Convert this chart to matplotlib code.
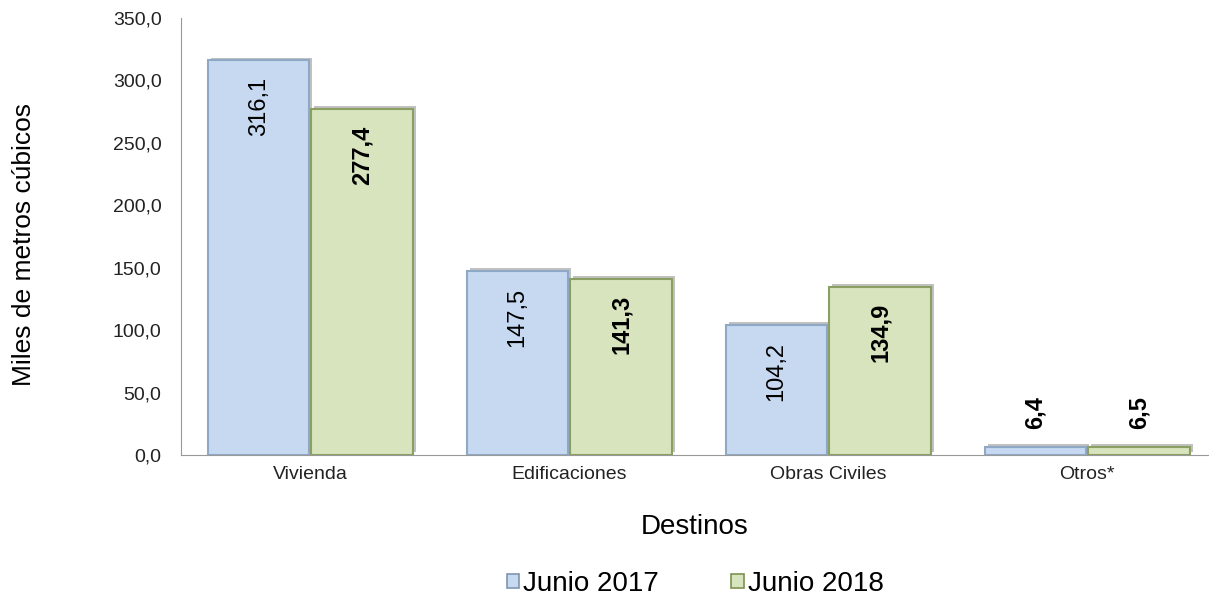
import matplotlib.pyplot as plt
import matplotlib.patheffects as pe
from matplotlib.patches import Patch
import numpy as np

plt.rcParams['font.family'] = ['Liberation Sans', 'DejaVu Sans']

destinos = ['Vivienda', 'Edificaciones', 'Obras Civiles', 'Otros*']
junio_2017 = [316.1, 147.5, 104.2, 6.4]
junio_2018 = [277.4, 141.3, 134.9, 6.5]
etiquetas_2017 = ['316,1', '147,5', '104,2', '6,4']
etiquetas_2018 = ['277,4', '141,3', '134,9', '6,5']
yticks = [0, 50, 100, 150, 200, 250, 300, 350]

fig = plt.figure(figsize=(12.09, 5.97), dpi=100)
ax = fig.add_axes([0.1497, 0.2379, 0.8503, 0.732])

x = np.arange(len(destinos))
w = 0.4
sombra = [pe.SimplePatchShadow(offset=(2, 2), shadow_rgbFace='#777777', alpha=0.45), pe.Normal()]
b1 = ax.bar(x - w / 2, junio_2017, w * 0.98, color='#C6D9F1', edgecolor='#8FA8C6', linewidth=1.5,
            zorder=3)
b2 = ax.bar(x + w / 2, junio_2018, w * 0.98, color='#D7E4BD', edgecolor='#8C9F63', linewidth=1.5,
            zorder=3)
for b in list(b1) + list(b2):
    b.set_path_effects(sombra)

for i in range(len(destinos)):
    if junio_2017[i] > 50:
        ax.annotate(etiquetas_2017[i], (x[i] - w / 2, junio_2017[i]), xytext=(0, -12),
                    textcoords='offset points', rotation=90, ha='center', va='top',
                    fontsize=17, zorder=5)
    else:
        ax.annotate(etiquetas_2017[i], (x[i] - w / 2, junio_2017[i]), xytext=(0, 13),
                    textcoords='offset points', rotation=90, ha='center', va='bottom',
                    fontsize=17, fontweight='bold', zorder=5)
    if junio_2018[i] > 50:
        ax.annotate(etiquetas_2018[i], (x[i] + w / 2, junio_2018[i]), xytext=(0, -12),
                    textcoords='offset points', rotation=90, ha='center', va='top',
                    fontsize=17, fontweight='bold', zorder=5)
    else:
        ax.annotate(etiquetas_2018[i], (x[i] + w / 2, junio_2018[i]), xytext=(0, 13),
                    textcoords='offset points', rotation=90, ha='center', va='bottom',
                    fontsize=17, fontweight='bold', zorder=5)

ax.set_xlim(-0.5, 3.47)
ax.set_ylim(0, 350)
ax.set_yticks(yticks)
ax.set_yticklabels(['%d,0' % v for v in yticks], fontsize=14, color='#222222')
ax.set_xticks(x)
ax.set_xticklabels(destinos, fontsize=14, color='#222222')
ax.tick_params(axis='both', length=0, pad=8)
ax.tick_params(axis='y', pad=14)
for s in ['top', 'right']:
    ax.spines[s].set_visible(False)
ax.spines['left'].set_color('#999999')
ax.spines['bottom'].set_color('#999999')

ax.set_xlabel('Destinos', fontsize=20, labelpad=22)
fig.text(0.02, 0.59, 'Miles de metros cúbicos', rotation=90, fontsize=19, ha='center', va='center')

h1 = Patch(facecolor='#C6D9F1', edgecolor='#7F95B0', linewidth=1.2, label='Junio 2017')
h2 = Patch(facecolor='#D7E4BD', edgecolor='#7F9150', linewidth=1.2, label='Junio 2018')
fig.legend(handles=[h1, h2], loc='center', bbox_to_anchor=(0.575, 0.022), ncol=2, frameon=False,
           fontsize=20, handlelength=0.45, handleheight=0.45, handletextpad=0.15, columnspacing=2.6,
           borderpad=0)

fig.savefig('out.png', dpi=100)
